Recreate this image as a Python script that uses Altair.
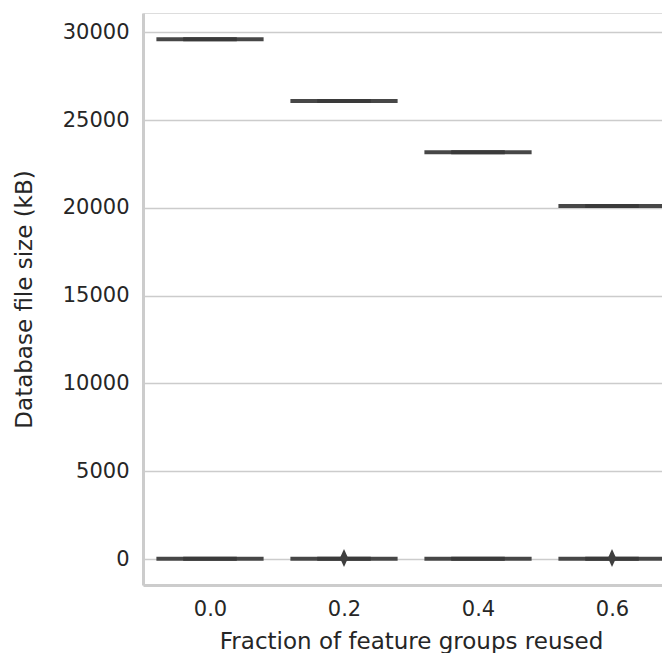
import altair as alt
import pandas as pd

fractions = [0.0, 0.2, 0.4, 0.6]
large_sizes = [29610, 26090, 23170, 20110]
small_sizes = [10, 10, 10, 10]
outlier_fractions = [0.2, 0.6]
outlier_sizes = [60, 60]

boxes = pd.DataFrame({
    "fraction": fractions * 2,
    "size": large_sizes + small_sizes,
})
outliers = pd.DataFrame({"fraction": outlier_fractions, "size": outlier_sizes})

xscale = alt.Scale(domain=[-0.1, 0.6746], nice=False, zero=False)
yscale = alt.Scale(domain=[-1480, 31100], nice=False, zero=False)

xaxis = alt.Axis(
    values=fractions, format=".1f", title="Fraction of feature groups reused",
    grid=False, ticks=False, labelPadding=13, titlePadding=11, titleX=268,
    labelFontSize=21, titleFontSize=23, labelColor="#262626", titleColor="#262626",
    domainColor="#cccccc", domainWidth=3, titleFontWeight="normal",
    labelFont="DejaVu Sans", titleFont="DejaVu Sans",
)
yaxis = alt.Axis(
    values=[0, 5000, 10000, 15000, 20000, 25000, 30000], format="d",
    title="Database file size (kB)", grid=True, gridColor="#cccccc", gridWidth=1.5,
    ticks=False, labelPadding=14, titlePadding=26,
    labelFontSize=21, titleFontSize=23, labelColor="#262626", titleColor="#262626",
    domainColor="#cccccc", domainWidth=3, titleFontWeight="normal",
    labelFont="DejaVu Sans", titleFont="DejaVu Sans",
)

base = alt.Chart(boxes).transform_calculate(
    x0="datum.fraction - 0.08", x1="datum.fraction + 0.08",
    c0="datum.fraction - 0.04", c1="datum.fraction + 0.04",
)

box_rules = base.mark_rule(color="#474747", strokeWidth=4, strokeCap="butt", clip=True).encode(
    x=alt.X("x0:Q", scale=xscale, axis=xaxis),
    x2="x1:Q",
    y=alt.Y("size:Q", scale=yscale, axis=yaxis),
)
cap_rules = base.mark_rule(color="#3a3a3a", strokeWidth=4, strokeCap="butt", clip=True).encode(
    x=alt.X("c0:Q", scale=xscale),
    x2="c1:Q",
    y=alt.Y("size:Q", scale=yscale),
)
points = alt.Chart(outliers).mark_point(
    shape="M0,-1L0.45,0L0,1L-0.45,0Z", filled=True, color="#3f3f3f", opacity=1, size=330,
    clip=True,
).encode(
    x=alt.X("fraction:Q", scale=xscale),
    y=alt.Y("size:Q", scale=yscale),
)

chart = alt.layer(box_rules, cap_rules, points).properties(
    width=519, height=572,
    padding={"left": 5, "top": 5, "right": 0, "bottom": 0},
).configure_view(stroke=None).configure(background="white")

chart.save("out.html", embed_options={"renderer": "svg", "actions": False})
